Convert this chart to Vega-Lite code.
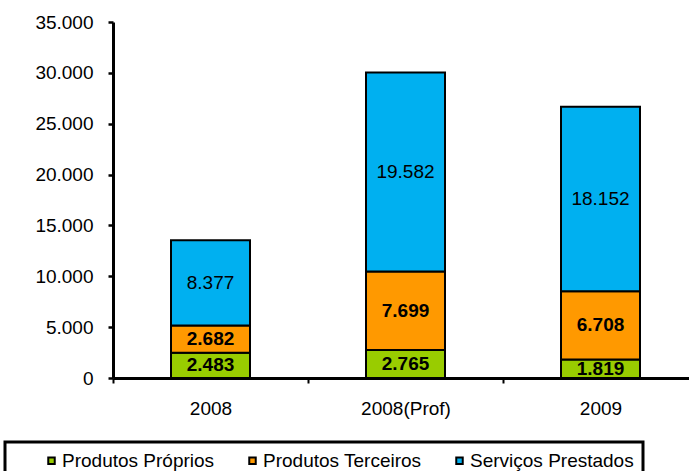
{
  "$schema": "https://vega.github.io/schema/vega-lite/v6.json",
  "width": 585,
  "height": 356,
  "autosize": {"type": "none"},
  "padding": {"left": 113, "top": 22, "right": -9, "bottom": 93},
  "config": {
    "view": {"stroke": null},
    "font": "Liberation Sans",
    "legend": {"strokeWidth": 3, "symbolStrokeColor": "black", "symbolStrokeWidth": 2}
  },
  "data": {
    "values": [
      {"year": "2008", "series": "Produtos Próprios", "value": 2483},
      {"year": "2008", "series": "Produtos Terceiros", "value": 2682},
      {"year": "2008", "series": "Serviços Prestados", "value": 8377},
      {"year": "2008(Prof)", "series": "Produtos Próprios", "value": 2765},
      {"year": "2008(Prof)", "series": "Produtos Terceiros", "value": 7699},
      {"year": "2008(Prof)", "series": "Serviços Prestados", "value": 19582},
      {"year": "2009", "series": "Produtos Próprios", "value": 1819},
      {"year": "2009", "series": "Produtos Terceiros", "value": 6708},
      {"year": "2009", "series": "Serviços Prestados", "value": 18152}
    ]
  },
  "transform": [
    {"stack": "value", "groupby": ["year"], "sort": [{"field": "series", "order": "ascending"}], "as": ["v0", "v1"]}
  ],
  "layer": [
    {
      "mark": {"type": "bar", "size": 79, "stroke": "black", "strokeWidth": 2},
      "encoding": {
        "x": {
          "field": "year", "type": "nominal", "sort": ["2008", "2008(Prof)", "2009"],
          "scale": {"paddingInner": 0, "paddingOuter": 0},
          "axis": {
            "title": null, "labelAngle": 0, "labelFontSize": 19, "labelColor": "black", "labelPadding": 16,
            "tickBand": "extent", "tickSize": 5, "tickWidth": 2, "tickColor": "black",
            "domainColor": "black", "domainWidth": 3
          }
        },
        "y": {
          "field": "v0", "type": "quantitative",
          "scale": {"domain": [0, 35000], "nice": false},
          "axis": {
            "title": null, "values": [0, 5000, 10000, 15000, 20000, 25000, 30000, 35000],
            "labelExpr": "replace(format(datum.value, ',d'), ',', '.')",
            "labelFontSize": 19, "labelColor": "black", "labelPadding": 15, "tickSize": 5, "tickWidth": 2.5,
            "tickColor": "black", "domainColor": "black", "domainWidth": 3, "grid": false
          }
        },
        "y2": {"field": "v1"},
        "color": {
          "field": "series", "type": "nominal",
          "scale": {
            "domain": ["Produtos Próprios", "Produtos Terceiros", "Serviços Prestados"],
            "range": ["#99CC00", "#FF9900", "#00B0F0"]
          },
          "legend": {
            "orient": "none", "legendX": -108, "legendY": 420, "direction": "horizontal", "columns": 3,
            "title": " ", "titleOrient": "left", "titleFontSize": 1, "titlePadding": 28,
            "padding": 9, "strokeColor": "black",
            "symbolType": "square", "symbolSize": 42, "symbolStrokeColor": "black", "symbolStrokeWidth": 2,
            "symbolOpacity": 1, "labelFontSize": 19, "labelColor": "black", "labelOffset": 1, "labelLimit": 300,
            "labelExpr": "datum.value == 'Serviços Prestados' ? datum.label + '\u00a0\u00a0\u00a0\u00a0' : datum.label",
            "columnPadding": 28
          }
        }
      }
    },
    {
      "transform": [
        {"fold": ["v0", "v1"], "as": ["edgeKey", "edge"]},
        {"aggregate": [{"op": "mean", "field": "edge", "as": "mid"}], "groupby": ["year", "series", "value"]},
        {"filter": "datum.series != 'Serviços Prestados'"}
      ],
      "mark": {"type": "text", "fontSize": 19, "fontWeight": "bold", "color": "black", "baseline": "middle",
               "text": {"expr": "replace(format(datum.value, ',d'), ',', '.')"}},
      "encoding": {
        "x": {"field": "year", "type": "nominal", "sort": ["2008", "2008(Prof)", "2009"]},
        "y": {"field": "mid", "type": "quantitative"}
      }
    },
    {
      "transform": [
        {"fold": ["v0", "v1"], "as": ["edgeKey", "edge"]},
        {"aggregate": [{"op": "mean", "field": "edge", "as": "mid"}], "groupby": ["year", "series", "value"]},
        {"filter": "datum.series == 'Serviços Prestados'"}
      ],
      "mark": {"type": "text", "fontSize": 19, "fontWeight": "normal", "color": "black", "baseline": "middle",
               "text": {"expr": "replace(format(datum.value, ',d'), ',', '.')"}},
      "encoding": {
        "x": {"field": "year", "type": "nominal", "sort": ["2008", "2008(Prof)", "2009"]},
        "y": {"field": "mid", "type": "quantitative"}
      }
    }
  ]
}
